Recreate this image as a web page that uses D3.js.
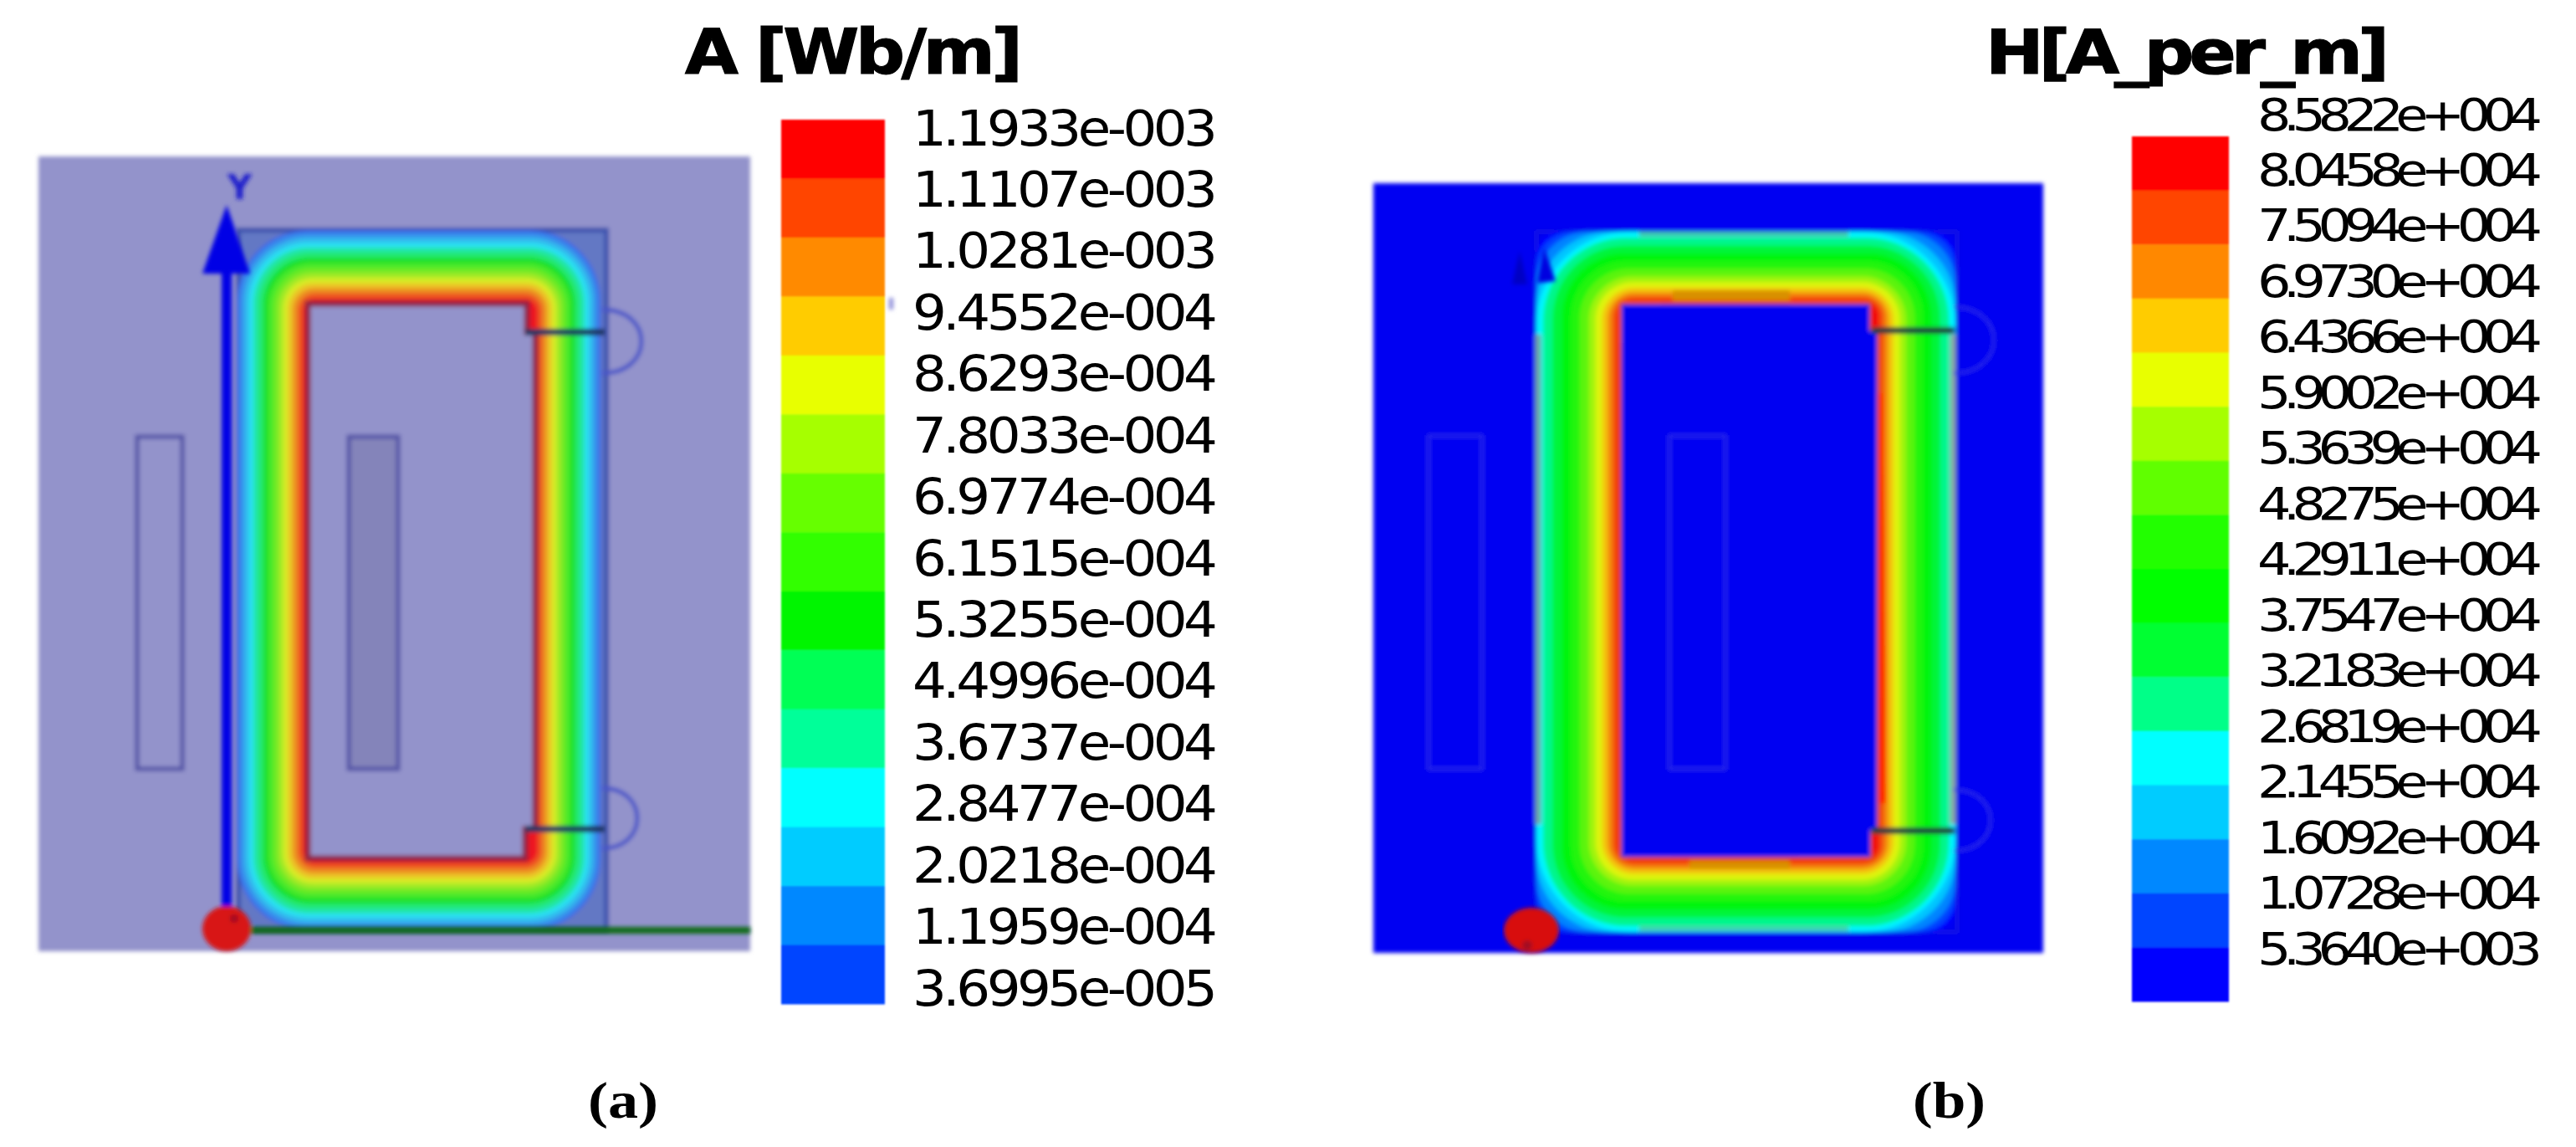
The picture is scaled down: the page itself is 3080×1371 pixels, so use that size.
<!DOCTYPE html>
<html>
<head>
<meta charset="utf-8">
<script src="https://cdn.jsdelivr.net/npm/d3@7/dist/d3.min.js"></script>
<style>html,body{margin:0;padding:0;background:#fff}svg{display:block}</style>
</head>
<body>
<svg id="chart" width="3080" height="1371" xmlns="http://www.w3.org/2000/svg"></svg>
<script>
// ---- data ----
const aTickLabels = ["1.1933e-003","1.1107e-003","1.0281e-003","9.4552e-004","8.6293e-004","7.8033e-004","6.9774e-004","6.1515e-004","5.3255e-004","4.4996e-004","3.6737e-004","2.8477e-004","2.0218e-004","1.1959e-004","3.6995e-005"];
const hTickLabels = ["8.5822e+004","8.0458e+004","7.5094e+004","6.9730e+004","6.4366e+004","5.9002e+004","5.3639e+004","4.8275e+004","4.2911e+004","3.7547e+004","3.2183e+004","2.6819e+004","2.1455e+004","1.6092e+004","1.0728e+004","5.3640e+003"];
const aColors = ["#ff0000","#ff4500","#ff8a00","#ffcc00","#e8ff00","#a6ff00","#66ff00","#33ff00","#00f500","#00ff55","#00ff99","#00ffff","#00ccff","#0088ff","#0044ff"];
const hColors = ["#ff0000","#ff4500","#ff8800","#ffcc00","#e8ff00","#a6ff00","#60ff00","#22ff00","#00ff00","#00ff33","#00ff88","#00ffff","#00ccff","#0088ff","#0044ff","#0000ff"];
const aValues = aTickLabels.map(Number);
const hValues = hTickLabels.map(Number);
// contour depth across the yoke (0 outer edge, 1 window edge) for field values
const aDepthKnots = [0, 1.1933e-3];
const aDepthAt    = [0, 1];
const hDepthKnots = [0, 2.1455e4, 2.68e4, 3.75e4, 5.36e4, 6.44e4, 7.0e4, 8.05e4, 8.58e4];
const hDepthAt    = [0, 0, 0.08, 0.3, 0.62, 0.78, 0.85, 0.97, 1];
// corner rounding of each contour
const aRadiusKnots = [0, 3e-4, 1.1933e-3];
const aRadiusAt    = [85, 66, 10];
const hRadiusKnots = [0, 5.36e3, 1.07e4, 1.6e4, 2.14e4, 4e4, 8.58e4];
const hRadiusAt    = [28, 42, 62, 88, 112, 70, 10];
// how much each field value is washed out by the translucent plot overlay
const aMuteKnots = [0, 3e-4, 1.1933e-3];
const aMuteAt    = [0.4, 0.22, 0.16];
const hMuteKnots = [0, 8.58e4];
const hMuteAt    = [0.03, 0.05];

// ---- layout ----
const panels = [{
  title:"A [Wb/m]", titleX:819, titleLen:404, titleSize:75, titleStretch:1.1,
  caption:"(a)", capX:703, capLen:84,
  values:aValues, labels:aTickLabels, colors:aColors,
  depth:d3.scaleLinear(aDepthKnots,aDepthAt), radius:d3.scaleLinear(aRadiusKnots,aRadiusAt),
  mute:d3.scaleLinear(aMuteKnots,aMuteAt),
  bar:{x0:934,x1:1058,y0:143,y1:1200}, tick:{x:1091,len:365,y0:173,y1:1201,size:59.5,stretch:1.08},
  box:{x0:46,y0:187,x1:897,y1:1137}, bg:"#9393cb",
  outer:{x0:283,y0:275,x1:718,y1:1112}, inner:{x0:368,y0:363,x1:637,y1:1026},
  block:{x0:285,y0:275,x1:725,y1:1112,fill:"#6478c4",stroke:"#3c52ae",sw:6},
  window:[[368,363],[630,363],[630,397],[640,397],[640,991],[628,991],[628,1026],[368,1026]],
  winStroke:"#8a1c40", winSw:7,
  coils:[{x0:164,x1:218,y0:522,y1:919,fill:"none"},{x0:417,x1:476,y0:522,y1:919,fill:"#8484ba"}],
  coilStroke:"#5252a6", coilSw:5,
  gaps:[{x0:628,x1:723,y:397},{x0:628,x1:723,y:991}], gapStroke:"#1c3460",
  arcs:[{x:720,y0:370,y1:446,bulge:47},{x:720,y0:942,y1:1014,bulge:42}], arcStroke:"#4a55c8", arcSw:5
},{
  title:"H[A_per_m]", titleX:2374, titleLen:483, titleSize:73, titleStretch:1.14,
  caption:"(b)", capX:2287, capLen:87,
  values:hValues, labels:hTickLabels, colors:hColors,
  depth:d3.scaleLinear(hDepthKnots,hDepthAt), radius:d3.scaleLinear(hRadiusKnots,hRadiusAt),
  mute:d3.scaleLinear(hMuteKnots,hMuteAt),
  bar:{x0:2549,x1:2665,y0:163,y1:1197}, tick:{x:2699,len:341,y0:155,y1:1152,size:53,stretch:1.2},
  box:{x0:1642,y0:219,x1:2443,y1:1139}, bg:"#0000f2",
  outer:{x0:1837,y0:277,x1:2338,y1:1114}, inner:{x0:1938,y0:363,x1:2243,y1:1025},
  block:{x0:1837,y0:277,x1:2340,y1:1114,fill:"#0000f2",stroke:"#1818e0",sw:3},
  window:[[1938,363],[2236,363],[2236,395],[2245,395],[2245,993],[2237,993],[2237,1025],[1938,1025]],
  winStroke:"#b86a00", winSw:2,
  coils:[{x0:1708,x1:1772,y0:521,y1:919,fill:"none"},{x0:1996,x1:2063,y0:521,y1:919,fill:"none"}],
  coilStroke:"#2a2ae6", coilSw:3,
  gaps:[{x0:2238,x1:2337,y:395},{x0:2238,x1:2337,y:993}], gapStroke:"#1e3c3c",
  arcs:[{x:2336,y0:367,y1:446,bulge:48},{x:2336,y0:944,y1:1017,bulge:44}], arcStroke:"#2a2ae6", arcSw:3,
  rims:[
    {pts:[[1839,400],[1839,985]],stroke:"#6fa6a0",sw:7},
    {pts:[[2335,400],[2335,985]],stroke:"#8aa8a0",sw:7},
    {pts:[[1960,280],[2210,280]],stroke:"#40c8a8",sw:6},
    {pts:[[1960,1110],[2210,1110]],stroke:"#40d0b0",sw:6}
  ],
  hot:[
    {pts:[[1948,430],[1948,960]],stroke:"#d89000",sw:14},
    {pts:[[2000,353],[2140,353]],stroke:"#d89000",sw:12},
    {pts:[[2020,1034],[2140,1034]],stroke:"#d89000",sw:10},
    {pts:[[2247,470],[2250,960]],stroke:"#ff2000",sw:9},
    {pts:[[1940,410],[1940,365],[1985,365]],stroke:"#ff2000",sw:9},
    {pts:[[1940,980],[1940,1022],[2000,1022]],stroke:"#ff2000",sw:8},
    {pts:[[2140,363],[2232,363]],stroke:"#ff2000",sw:6},
    {pts:[[2150,1023],[2234,1023]],stroke:"#ff2000",sw:7}
  ]
}];

const svg = d3.select("#chart");
const defs = svg.append("defs");
defs.append("filter").attr("id","soft").attr("x","-3%").attr("y","-3%").attr("width","106%").attr("height","106%")
  .append("feGaussianBlur").attr("stdDeviation",2.6);
defs.append("filter").attr("id","softBar").attr("x","-5%").attr("y","-2%").attr("width","110%").attr("height","104%")
  .append("feGaussianBlur").attr("stdDeviation",1.2);
const poly = d3.line();

panels.forEach(p=>{
  // title: wide glyphs packed tightly, as in the source image
  svg.append("text").text(p.title)
    .attr("transform",`translate(${p.titleX},88) scale(${p.titleStretch},1)`)
    .attr("font-family","DejaVu Sans").attr("font-weight","bold").attr("font-size",p.titleSize)
    .attr("textLength",p.titleLen/p.titleStretch).attr("lengthAdjust","spacing")
    .attr("fill","#000").attr("stroke","#000").attr("stroke-width",1.2);

  // caption
  svg.append("text").text(p.caption)
    .attr("x",p.capX).attr("y",1336)
    .attr("font-family","Liberation Serif").attr("font-weight","bold").attr("font-size",62)
    .attr("textLength",p.capLen).attr("lengthAdjust","spacingAndGlyphs").attr("fill","#000");

  // field plot
  const g = svg.append("g").attr("filter","url(#soft)");
  const b = p.box;
  g.append("rect").attr("x",b.x0).attr("y",b.y0).attr("width",b.x1-b.x0).attr("height",b.y1-b.y0).attr("fill",p.bg);

  const bl = p.block;
  g.append("rect").attr("x",bl.x0).attr("y",bl.y0).attr("width",bl.x1-bl.x0).attr("height",bl.y1-bl.y0)
    .attr("fill",bl.fill).attr("stroke",bl.stroke).attr("stroke-width",bl.sw);

  const lerpX0 = d3.scaleLinear([0,1],[p.outer.x0,p.inner.x0]);
  const lerpX1 = d3.scaleLinear([0,1],[p.outer.x1,p.inner.x1]);
  const lerpY0 = d3.scaleLinear([0,1],[p.outer.y0,p.inner.y0]);
  const lerpY1 = d3.scaleLinear([0,1],[p.outer.y1,p.inner.y1]);
  const contours = p.values.map((v,i)=>({lower:p.values[i+1]===undefined?0:p.values[i+1],color:p.colors[i]})).reverse();

  g.append("g").selectAll("rect").data(contours).join("rect")
    .attr("x",d=>lerpX0(p.depth(d.lower)))
    .attr("y",d=>lerpY0(p.depth(d.lower)))
    .attr("width",d=>lerpX1(p.depth(d.lower))-lerpX0(p.depth(d.lower)))
    .attr("height",d=>lerpY1(p.depth(d.lower))-lerpY0(p.depth(d.lower)))
    .attr("rx",d=>p.radius(d.lower))
    .attr("fill",d=>d3.interpolateRgb(d.color,p.bg)(p.mute(d.lower)));

  (p.rims||[]).forEach(r=>{
    g.append("path").attr("d",poly(r.pts)).attr("fill","none").attr("stroke",r.stroke).attr("stroke-width",r.sw);
  });
  (p.hot||[]).forEach(r=>{
    g.append("path").attr("d",poly(r.pts)).attr("fill","none").attr("stroke",r.stroke).attr("stroke-width",r.sw);
  });

  // window
  g.append("path").attr("d",poly(p.window)+"Z").attr("fill",p.bg)
    .attr("stroke",p.winStroke).attr("stroke-width",p.winSw).attr("stroke-opacity",0.85);

  // coils
  g.selectAll("rect.coil").data(p.coils).join("rect").attr("class","coil")
    .attr("x",d=>d.x0).attr("y",d=>d.y0).attr("width",d=>d.x1-d.x0).attr("height",d=>d.y1-d.y0)
    .attr("fill",d=>d.fill).attr("stroke",p.coilStroke).attr("stroke-width",p.coilSw);

  // air gaps and fringing arcs
  g.selectAll("line.gap").data(p.gaps).join("line").attr("class","gap")
    .attr("x1",d=>d.x0).attr("x2",d=>d.x1).attr("y1",d=>d.y).attr("y2",d=>d.y)
    .attr("stroke",p.gapStroke).attr("stroke-width",8);
  g.selectAll("path.arc").data(p.arcs).join("path").attr("class","arc")
    .attr("d",d=>{
      const c=d3.path();
      c.moveTo(d.x,d.y0);
      c.bezierCurveTo(d.x+d.bulge*1.33,d.y0,d.x+d.bulge*1.33,d.y1,d.x,d.y1);
      return c.toString();
    })
    .attr("fill","none").attr("stroke",p.arcStroke).attr("stroke-width",p.arcSw);

  // legend bar
  const yBand = d3.scaleBand().domain(p.labels).range([p.bar.y0,p.bar.y1]).padding(0);
  svg.append("g").attr("filter","url(#softBar)").selectAll("rect").data(p.labels).join("rect")
    .attr("x",p.bar.x0).attr("width",p.bar.x1-p.bar.x0)
    .attr("y",d=>yBand(d)).attr("height",yBand.bandwidth()+0.5)
    .attr("fill",(d,i)=>p.colors[i]);

  // legend ticks
  const yTick = d3.scalePoint().domain(p.labels).range([p.tick.y0,p.tick.y1]);
  const axis = svg.append("g").attr("transform",`translate(${p.tick.x},0)`)
    .call(d3.axisRight(yTick).tickSize(0).tickPadding(0));
  axis.select(".domain").remove();
  axis.selectAll("text")
    .attr("x",0).attr("dy",0).attr("text-anchor","start")
    .attr("transform",`scale(${p.tick.stretch},1)`)
    .attr("font-family","DejaVu Sans").attr("font-size",p.tick.size).attr("fill","#000")
    .attr("textLength",p.tick.len/p.tick.stretch).attr("lengthAdjust","spacing");
});

// global coordinate axes of the solver view, panel (a)
const ga = svg.append("g").attr("filter","url(#soft)");
ga.append("line").attr("x1",300).attr("x2",897).attr("y1",1112).attr("y2",1112).attr("stroke","#0e6a14").attr("stroke-width",8);
ga.append("line").attr("x1",271).attr("x2",271).attr("y1",320).attr("y2",1100).attr("stroke","#0000e6").attr("stroke-width",12);
ga.append("path").attr("d",poly([[271,245],[242,327],[299,327]])+"Z").attr("fill","#0000e6");
ga.append("text").text("Y").attr("x",272).attr("y",238).attr("font-family","DejaVu Sans").attr("font-weight","bold")
  .attr("font-size",40).attr("fill","#1a1acc");
ga.append("ellipse").attr("cx",271).attr("cy",1110).attr("rx",29).attr("ry",27).attr("fill","#d81218");
ga.append("circle").attr("cx",280).attr("cy",1098).attr("r",5).attr("fill","#a01020");
ga.append("rect").attr("x",1063).attr("y",356).attr("width",5).attr("height",14).attr("fill","#8a8ad8");

// same triad, panel (b)
const gb = svg.append("g").attr("filter","url(#soft)");
gb.append("path").attr("d",poly([[1846,296],[1838,338],[1860,336]])+"Z").attr("fill","#0000e0");
gb.append("path").attr("d",poly([[1817,300],[1808,340],[1826,340]])+"Z").attr("fill","#0000c4");
gb.append("ellipse").attr("cx",1831).attr("cy",1112).attr("rx",33).attr("ry",27).attr("fill","#d80a10");
gb.append("circle").attr("cx",1826).attr("cy",1130).attr("r",6).attr("fill","#a01020");
</script>
</body>
</html>
